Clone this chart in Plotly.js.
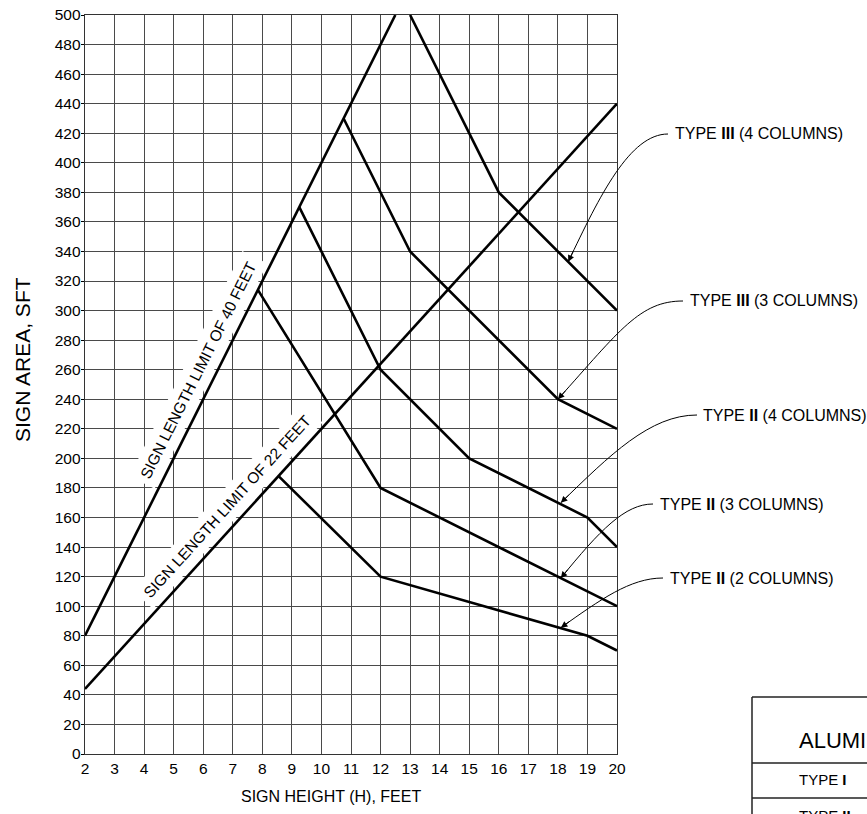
<!DOCTYPE html>
<html>
<head>
<meta charset="utf-8">
<script src="https://cdn.plot.ly/plotly-3.0.1.min.js"></script>
<style>
  html, body { margin: 0; padding: 0; background: #fff; }
  #chart { width: 867px; height: 814px; }
</style>
</head>
<body>
<div id="chart"></div>
<script>
// ---------------- DATA ----------------
const limit40X = [2, 12.5];
const limit40Y = [80, 500];
const limit22X = [2, 20];
const limit22Y = [44, 440];
const typeIII4X = [13, 16, 20];
const typeIII4Y = [500, 380, 300];
const typeIII3X = [10.75, 13, 18, 20];
const typeIII3Y = [430, 340, 240, 220];
const typeII4X = [9.25, 12, 15, 19, 20];
const typeII4Y = [370, 260, 200, 160, 140];
const typeII3X = [7.85, 12, 20];
const typeII3Y = [314, 180, 100];
const typeII2X = [8.55, 12, 19, 20];
const typeII2Y = [188, 120, 80, 70];

const seriesNames = ['TYPE <b>III</b> (4 COLUMNS)', 'TYPE <b>III</b> (3 COLUMNS)',
                     'TYPE <b>II</b> (4 COLUMNS)', 'TYPE <b>II</b> (3 COLUMNS)', 'TYPE <b>II</b> (2 COLUMNS)'];
// arrow tip on each curve (data units)
const tipX = [18.35, 18, 18.1, 18.1, 18.1];
const tipY = [333, 240, 170, 119, 85.5];

const xTickVals = [2,3,4,5,6,7,8,9,10,11,12,13,14,15,16,17,18,19,20];
const yTickVals = [0,20,40,60,80,100,120,140,160,180,200,220,240,260,280,300,320,340,360,380,400,420,440,460,480,500];

// ---------------- LAYOUT HELPERS ----------------
const W = 867, H = 814;
const M = {l: 85, r: 250, t: 15, b: 60};
const plotW = W - M.l - M.r, plotH = H - M.t - M.b;
const X0 = 2, X1 = 20, Y0 = 0, Y1 = 500;
const pX = px => (px - M.l) / plotW;          // pixel -> paper x
const pY = py => (H - M.b - py) / plotH;      // pixel -> paper y
const d2pxX = x => M.l + (x - X0) / (X1 - X0) * plotW;
const d2pxY = y => H - M.b - (y - Y0) / (Y1 - Y0) * plotH;

const FONT = 'Arial, "Liberation Sans", Helvetica, sans-serif';

// label positions (left edge, centre y, in pixels) and leader curve controls
const labelPos = [[673,133],[688,300],[701,415],[658,504],[668,578]];
const curveCtl = [
  [[668,134],[630,134],[600,195]],
  [[683,301],[640,301],[620,330]],
  [[697,415],[650,415],[610,455]],
  [[653,504],[625,504],[600,530]],
  [[663,578],[630,578],[600,600]]
];

const thick = {color: '#000', width: 2.6};
const mk = (x, y) => ({x: x, y: y, type: 'scatter', mode: 'lines', line: thick,
                       hoverinfo: 'skip', showlegend: false, cliponaxis: true});
const data = [
  mk(limit40X, limit40Y), mk(limit22X, limit22Y),
  mk(typeIII4X, typeIII4Y), mk(typeIII3X, typeIII3Y),
  mk(typeII4X, typeII4Y), mk(typeII3X, typeII3Y), mk(typeII2X, typeII2Y)
];

const annotations = [];
const shapes = [];

// rotated limit labels
annotations.push({x: 5.85, y: 260, xref: 'x', yref: 'y', text: 'SIGN LENGTH LIMIT OF 40 FEET',
  textangle: -63.43, showarrow: false, bgcolor: '#fff', borderpad: 5,
  font: {family: FONT, size: 15.5, color: '#000'}});
annotations.push({x: 6.81, y: 167.5, xref: 'x', yref: 'y', text: 'SIGN LENGTH LIMIT OF 22 FEET',
  textangle: -47.73, showarrow: false, bgcolor: '#fff', borderpad: 5,
  font: {family: FONT, size: 15.5, color: '#000'}});

// type labels with curved leaders
for (let i = 0; i < seriesNames.length; i++) {
  const [lx, ly] = labelPos[i];
  annotations.push({x: pX(lx), y: pY(ly), xref: 'paper', yref: 'paper', xanchor: 'left', yanchor: 'middle',
    text: seriesNames[i], showarrow: false, font: {family: FONT, size: 16, color: '#000'}});
  const [p0, p1, p2] = curveCtl[i];
  const tx = d2pxX(tipX[i]), ty = d2pxY(tipY[i]);
  const path = 'M ' + pX(p0[0]) + ',' + pY(p0[1]) +
               ' C ' + pX(p1[0]) + ',' + pY(p1[1]) + ' ' + pX(p2[0]) + ',' + pY(p2[1]) +
               ' ' + pX(tx) + ',' + pY(ty);
  shapes.push({type: 'path', xref: 'paper', yref: 'paper', path: path,
    line: {color: '#000', width: 1}, layer: 'above'});
  let vx = p2[0] - tx, vy = p2[1] - ty;
  const len = Math.hypot(vx, vy);
  vx /= len; vy /= len;
  annotations.push({x: tipX[i], y: tipY[i], xref: 'x', yref: 'y', text: '', showarrow: true,
    ax: vx * 13, ay: vy * 13, arrowhead: 2, arrowsize: 1.3, arrowwidth: 1, arrowcolor: '#000', standoff: 0});
}

// axis titles
annotations.push({x: pX(331), y: pY(796), xref: 'paper', yref: 'paper', xanchor: 'center', yanchor: 'middle',
  text: 'SIGN HEIGHT (H), FEET', showarrow: false, font: {family: FONT, size: 16, color: '#000'}});
annotations.push({x: pX(22), y: pY(360), xref: 'paper', yref: 'paper', xanchor: 'center', yanchor: 'middle',
  text: 'SIGN AREA, SFT', textangle: -90, showarrow: false, font: {family: FONT, size: 21, color: '#000'}});

// partial table at bottom right (cut by the page edge, as in the reference)
const tblLine = {color: '#222', width: 1.5};
shapes.push({type: 'line', xref: 'paper', yref: 'paper', x0: pX(752), x1: pX(752), y0: pY(697), y1: pY(830), line: tblLine});
shapes.push({type: 'line', xref: 'paper', yref: 'paper', x0: pX(752), x1: pX(880), y0: pY(697), y1: pY(697), line: tblLine});
shapes.push({type: 'line', xref: 'paper', yref: 'paper', x0: pX(752), x1: pX(880), y0: pY(763), y1: pY(763), line: tblLine});
shapes.push({type: 'line', xref: 'paper', yref: 'paper', x0: pX(752), x1: pX(880), y0: pY(798), y1: pY(798), line: tblLine});
annotations.push({x: pX(797), y: pY(740), xref: 'paper', yref: 'paper', xanchor: 'left', yanchor: 'middle',
  text: 'ALUMINUM', showarrow: false, font: {family: FONT, size: 22, color: '#000'}});
annotations.push({x: pX(797), y: pY(780), xref: 'paper', yref: 'paper', xanchor: 'left', yanchor: 'middle',
  text: 'TYPE <b>I</b>', showarrow: false, font: {family: FONT, size: 15, color: '#000'}});
annotations.push({x: pX(797), y: pY(815), xref: 'paper', yref: 'paper', xanchor: 'left', yanchor: 'middle',
  text: 'TYPE <b>II</b>', showarrow: false, font: {family: FONT, size: 15, color: '#000'}});

const layout = {
  width: W, height: H,
  margin: M,
  paper_bgcolor: '#fff', plot_bgcolor: '#fff',
  showlegend: false,
  xaxis: {
    range: [X0, X1], tickmode: 'array', tickvals: xTickVals, ticktext: xTickVals.map(String),
    showgrid: true, gridcolor: '#4a4a4a', gridwidth: 1, zeroline: false,
    showline: true, linecolor: '#333', linewidth: 1.3, mirror: true,
    ticks: '', ticklabelstandoff: 0,
    tickfont: {family: FONT, size: 15.5, color: '#000'}, fixedrange: true
  },
  yaxis: {
    range: [Y0, Y1], tickmode: 'array', tickvals: yTickVals, ticktext: yTickVals.map(String),
    showgrid: true, gridcolor: '#4a4a4a', gridwidth: 1, zeroline: false,
    showline: true, linecolor: '#333', linewidth: 1.3, mirror: true,
    ticks: 'outside', ticklen: 3, tickcolor: '#000', tickwidth: 1, ticklabelstandoff: -3,
    tickfont: {family: FONT, size: 15.5, color: '#000'}, fixedrange: true
  },
  annotations: annotations,
  shapes: shapes
};

Plotly.newPlot('chart', data, layout, {displayModeBar: false, staticPlot: true});
</script>
</body>
</html>
